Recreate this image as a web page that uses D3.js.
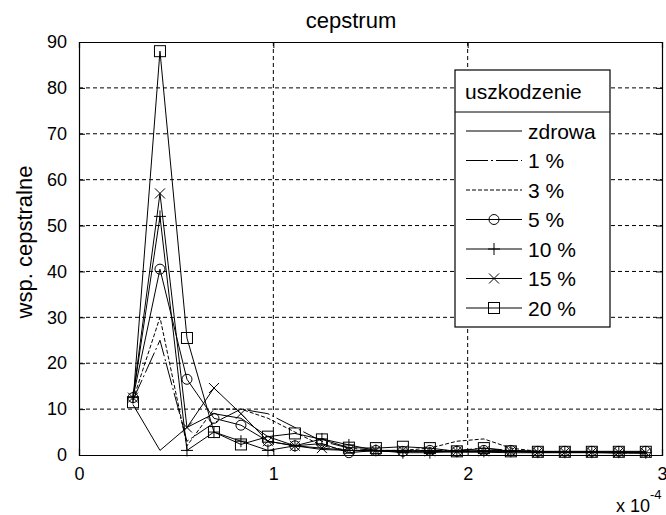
<!DOCTYPE html>
<html>
<head>
<meta charset="utf-8">
<script src="https://cdn.jsdelivr.net/npm/d3@7"></script>
<style>
  body { margin: 0; background: #fff; }
  text { font-family: "Liberation Sans", Arial, sans-serif; fill: #000; }
</style>
</head>
<body>
<div id="container"></div>
<script>
let w = 666;
let h = 515;

// quefrency index, samples at k / 72000 s
let kIndex = [2,3,4,5,6,7,8,9,10,11,12,13,14,15,16,17,18,19,20,21];
let sampleRate = 72000;

let seriesNames = ["zdrowa", "1 %", "3 %", "5 %", "10 %", "15 %", "20 %"];

let zdrowa = [11, 1, 6, 9, 8, 4, 2, 1.2, 1, 0.8, 0.8, 0.8, 0.6, 0.6, 0.5, 0.5, 0.5, 0.5, 0.4, 0.4];
let p1  = [12, 25, 3, 7, 10, 9, 6, 3, 1.5, 1, 0.8, 1, 1, 1.5, 1, 0.8, 0.6, 0.6, 0.5, 0.5];
let p3  = [12, 30, 2, 10, 10, 8, 5, 2, 1, 1, 1, 1.5, 3, 3.5, 1.5, 0.8, 0.6, 0.6, 0.5, 0.5];
let p5  = [12.5, 40.5, 16.5, 8, 6.5, 3, 2, 2.5, 0.5, 1, 0.8, 1, 0.8, 1, 1, 0.8, 0.8, 0.8, 0.8, 0.8];
let p10 = [12.5, 52, 1, 5, 3, 1, 2, 3.5, 2.2, 1, 0.5, 0.5, 0.8, 0.8, 0.8, 0.6, 0.6, 0.6, 0.6, 0.5];
let p15 = [12.5, 57, 6, 14.6, 9, 3, 2, 1.5, 1, 1, 1, 0.8, 0.8, 0.8, 0.8, 0.6, 0.6, 0.6, 0.6, 0.5];
let p20 = [11.5, 88, 25.5, 5, 2.3, 4, 4.7, 3.4, 1.6, 1.5, 1.8, 1.5, 0.8, 1.5, 0.8, 0.7, 0.7, 0.7, 0.7, 0.7];

let xTicks = [0, 1e-4, 2e-4, 3e-4];
let xTickLabels = ["0", "1", "2", "3"];
let yTicks = [0, 10, 20, 30, 40, 50, 60, 70, 80, 90];

let allSeries = [zdrowa, p1, p3, p5, p10, p15, p20];
let dashes = ["none", "22,3,2,3", "4,2", "none", "none", "none", "none"];
let markers = ["none", "none", "none", "circle", "plus", "cross", "square"];

let viz = d3.select("#container")
  .append("svg")
    .attr("width", w)
    .attr("height", h);

let plotLeft = 79, plotRight = 662, plotTop = 42, plotBottom = 455;

let xScale = d3.scaleLinear().domain([0, 3e-4]).range([plotLeft, plotRight]);
let yScale = d3.scaleLinear().domain([0, 90]).range([plotBottom, plotTop]);

// grid
let grid = viz.append("g").attr("class", "grid");
grid.selectAll(".vgrid").data(xTicks.slice(1, 3)).enter()
  .append("line")
    .attr("x1", d => xScale(d)).attr("x2", d => xScale(d))
    .attr("y1", plotTop).attr("y2", plotBottom)
    .attr("stroke", "#000").attr("stroke-width", 1)
    .attr("stroke-dasharray", "4,3");
grid.selectAll(".hgrid").data(yTicks.slice(1, 9)).enter()
  .append("line")
    .attr("x1", plotLeft).attr("x2", plotRight)
    .attr("y1", d => yScale(d)).attr("y2", d => yScale(d))
    .attr("stroke", "#000").attr("stroke-width", 1)
    .attr("stroke-dasharray", "4,3");

// axes, ticks inside
let xAxis = d3.axisBottom(xScale).tickValues(xTicks)
  .tickFormat((d, i) => xTickLabels[i]).tickSize(-6).tickPadding(12);
let yAxis = d3.axisLeft(yScale).tickValues(yTicks).tickSize(-6).tickPadding(12);

viz.append("g").attr("transform", "translate(0," + plotBottom + ")").call(xAxis);
viz.append("g").attr("transform", "translate(" + plotLeft + ",0)").call(yAxis);
viz.append("g").attr("transform", "translate(0," + plotTop + ")")
  .call(d3.axisTop(xScale).tickValues(xTicks).tickSize(-6).tickFormat(""));
viz.append("g").attr("transform", "translate(" + plotRight + ",0)")
  .call(d3.axisRight(yScale).tickValues(yTicks).tickSize(-6).tickFormat(""));

viz.selectAll(".domain").attr("stroke", "#000").attr("stroke-width", 1.2);
viz.selectAll(".tick line").attr("stroke", "#000");
viz.selectAll(".tick text").style("font-size", "18px").attr("fill", "#000");

// lines
let line = d3.line()
  .x((d, i) => xScale(kIndex[i] / sampleRate))
  .y(d => yScale(d));

function drawMarker(g, type, x, y) {
  if (type == "circle") {
    g.append("circle").attr("cx", x).attr("cy", y).attr("r", 5)
      .attr("fill", "none").attr("stroke", "#000");
  } else if (type == "square") {
    g.append("rect").attr("x", x - 5.5).attr("y", y - 5.5)
      .attr("width", 11).attr("height", 11)
      .attr("fill", "none").attr("stroke", "#000");
  } else if (type == "plus") {
    g.append("path").attr("d", "M" + (x - 6) + "," + y + "H" + (x + 6) + "M" + x + "," + (y - 6) + "V" + (y + 6))
      .attr("stroke", "#000");
  } else if (type == "cross") {
    g.append("path").attr("d", "M" + (x - 5) + "," + (y - 5) + "L" + (x + 5) + "," + (y + 5) +
      "M" + (x - 5) + "," + (y + 5) + "L" + (x + 5) + "," + (y - 5))
      .attr("stroke", "#000");
  }
}

allSeries.forEach(function(vals, s) {
  let g = viz.append("g").attr("class", "series");
  g.append("path")
    .attr("d", line(vals))
    .attr("fill", "none")
    .attr("stroke", "#000")
    .attr("stroke-width", 1)
    .attr("stroke-dasharray", dashes[s]);
  vals.forEach(function(v, i) {
    drawMarker(g, markers[s], xScale(kIndex[i] / sampleRate), yScale(v));
  });
});

// title and labels
viz.append("text").text("cepstrum")
  .attr("x", 351).attr("y", 28)
  .attr("text-anchor", "middle").style("font-size", "22px");

viz.append("text").text("wsp. cepstralne")
  .attr("transform", "translate(32,242) rotate(-90)")
  .attr("text-anchor", "middle").style("font-size", "22px");

let expo = viz.append("text").attr("x", 616).attr("y", 512).style("font-size", "18px");
expo.append("tspan").text("x 10");
expo.append("tspan").text("-4").attr("dy", -13).style("font-size", "13px");

// legend
let legend = viz.append("g").attr("class", "legend");
legend.append("rect")
  .attr("x", 455).attr("y", 70).attr("width", 155).attr("height", 257)
  .attr("fill", "#fff").attr("stroke", "#000").attr("stroke-width", 1.2);
legend.append("line")
  .attr("x1", 455).attr("x2", 610).attr("y1", 112).attr("y2", 112)
  .attr("stroke", "#000");
legend.append("text").text("uszkodzenie")
  .attr("x", 465).attr("y", 99).style("font-size", "21px");

seriesNames.forEach(function(name, s) {
  let y = 131 + s * 29.5;
  legend.append("line")
    .attr("x1", 466).attr("x2", 522).attr("y1", y).attr("y2", y)
    .attr("stroke", "#000").attr("stroke-dasharray", dashes[s]);
  drawMarker(legend, markers[s], 494, y);
  legend.append("text").text(name)
    .attr("x", 528).attr("y", y + 7.5).style("font-size", "21px");
});
</script>
</body>
</html>
